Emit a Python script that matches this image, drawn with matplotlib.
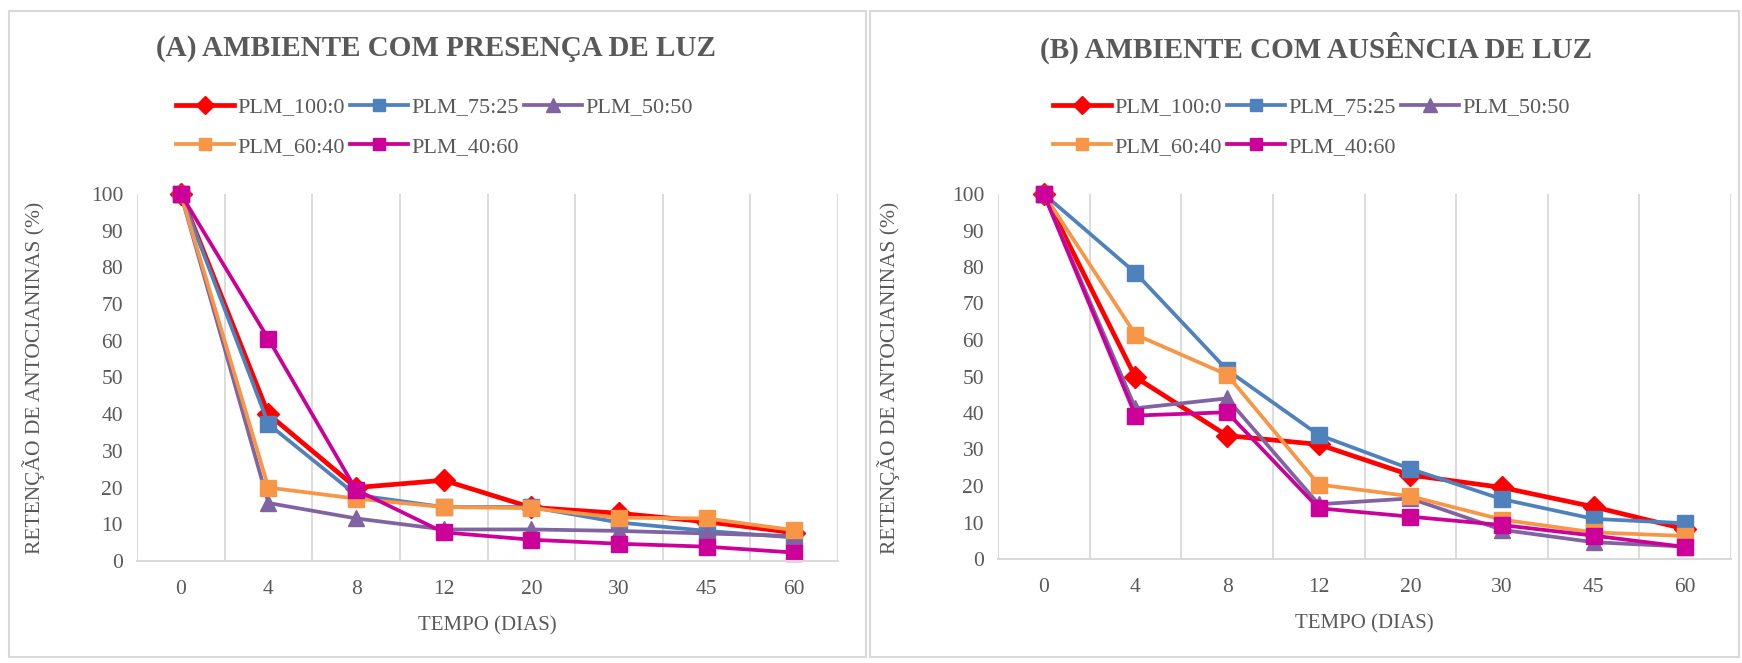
import matplotlib
matplotlib.use("Agg")
import matplotlib.pyplot as plt
from matplotlib.patches import Rectangle

# ── dados ────────────────────────────────────────────────────────────────────
dias = ["0", "4", "8", "12", "20", "30", "45", "60"]
series = ["PLM_100:0", "PLM_75:25", "PLM_50:50", "PLM_60:40", "PLM_40:60"]

# (A) presença de luz
luz_100_0 = [100, 40.0, 20.0, 22.0, 14.6, 13.0, 10.7, 7.7]
luz_75_25 = [100, 37.3, 18.0, 14.7, 14.7, 10.5, 8.2, 6.4]
luz_50_50 = [100, 15.8, 11.6, 8.6, 8.6, 8.2, 7.5, 6.8]
luz_60_40 = [100, 20.0, 17.0, 14.7, 14.4, 11.8, 11.6, 8.4]
luz_40_60 = [100, 60.5, 19.4, 7.8, 5.8, 4.7, 3.9, 2.3]

# (B) ausência de luz
esc_100_0 = [100, 49.8, 33.8, 31.4, 23.0, 19.6, 14.3, 8.2]
esc_75_25 = [100, 78.4, 51.8, 34.0, 24.7, 16.4, 11.0, 9.8]
esc_50_50 = [100, 41.3, 44.0, 15.0, 16.6, 8.0, 4.6, 3.4]
esc_60_40 = [100, 61.5, 50.5, 20.4, 17.2, 10.8, 7.3, 6.3]
esc_40_60 = [100, 39.3, 40.2, 13.9, 11.6, 9.3, 6.4, 3.3]

luz = [luz_100_0, luz_75_25, luz_50_50, luz_60_40, luz_40_60]
esc = [esc_100_0, esc_75_25, esc_50_50, esc_60_40, esc_40_60]

cores = ["#FF0000", "#4F81BD", "#8064A2", "#F79646", "#CC0099"]
marcadores = ["D", "s", "^", "s", "s"]
larguras = [3.4, 2.7, 2.7, 2.7, 2.7]

CINZA = "#595959"
GRADE = "#D9D9D9"
FONTE = ["Liberation Serif", "DejaVu Serif"]
plt.rcParams["font.family"] = FONTE

W, H = 1742, 663
fig = plt.figure(figsize=(W / 100, H / 100), dpi=100)

# molduras dos dois painéis
for x0, x1 in [(9, 866), (870, 1739)]:
    fig.patches.append(Rectangle((x0 / W, 6 / H), (x1 - x0) / W, (652 - 6) / H,
                                 transform=fig.transFigure, fill=False,
                                 edgecolor=GRADE, lw=1.5))


def painel(rect, dados, titulo, tit_x, leg_x, ylab_x):
    ax = fig.add_axes(rect)
    x = list(range(len(dias)))
    handles = []
    for d, c, m, lw, nome in zip(dados, cores, marcadores, larguras, series):
        ms = 11 if m == "D" else (12 if m == "^" else 11.5)
        h, = ax.plot(x, d, color=c, lw=lw, marker=m, ms=ms, label=nome,
                     clip_on=False)
        handles.append(h)
    ax.set_xlim(-0.5, len(dias) - 0.5)
    ax.set_ylim(0, 100)
    ax.set_yticks(range(0, 101, 10))
    ax.set_xticks(x)
    ax.set_xticklabels(dias)
    for k in range(len(dias) + 1):
        ax.axvline(k - 0.5, color=GRADE, lw=1.3, zorder=0)
    for s in ["top", "right", "left"]:
        ax.spines[s].set_visible(False)
    ax.spines["bottom"].set_color(GRADE)
    ax.spines["bottom"].set_linewidth(1.5)
    ax.tick_params(length=0, labelsize=15.5, colors=CINZA)
    ax.tick_params(axis="x", pad=14)
    ax.tick_params(axis="y", pad=10)
    ax.set_xlabel("TEMPO (DIAS)", fontsize=15, color=CINZA, labelpad=12)
    fig.text(ylab_x / W, (663 - 378) / H, "RETENÇÃO DE ANTOCIANINAS (%)",
             rotation=90, ha="center", va="center", fontsize=15.5, color=CINZA)
    fig.text(tit_x / W, (663 - 48) / H, titulo, ha="center", va="center",
             fontsize=21, fontweight="bold", color=CINZA)
    # ordem para que a 1ª linha tenha 100:0, 75:25, 50:50
    ordem = [0, 3, 1, 4, 2]
    fig.legend([handles[i] for i in ordem], [series[i] for i in ordem],
               loc="upper left", bbox_to_anchor=(leg_x / W, (663 - 97) / H),
               ncol=3, frameon=False, fontsize=16, handlelength=2.6,
               handletextpad=0.15, columnspacing=0.25, labelspacing=0.86,
               borderpad=0, borderaxespad=0, markerscale=0.8,
               labelcolor=CINZA)
    return ax


painel([137 / W, 102 / H, (838 - 137) / W, (469 - 102) / H], luz,
       "(A) AMBIENTE COM PRESENÇA DE LUZ", 436, 176, 34)
painel([998 / W, 104 / H, (1731 - 998) / W, (469 - 104) / H], esc,
       "(B) AMBIENTE COM AUSÊNCIA DE LUZ", 1316, 1053, 889)

fig.savefig("out.png", dpi=100)
